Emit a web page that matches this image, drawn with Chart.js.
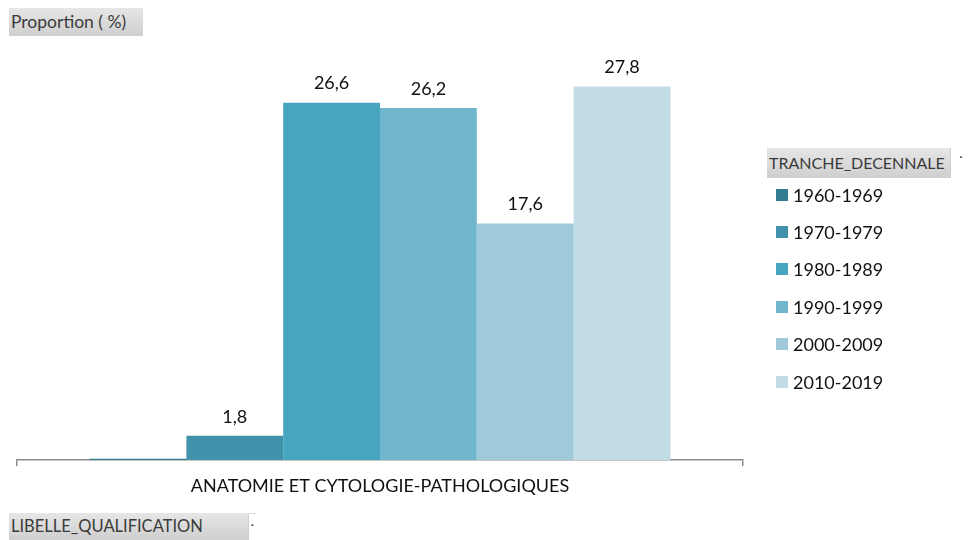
<!DOCTYPE html>
<html>
<head>
<meta charset="utf-8">
<script src="https://cdn.jsdelivr.net/npm/chart.js@4"></script>
<style>
  body { margin: 0; background: #fff; font-family: Lato, "Open Sans", sans-serif; }
  #wrap { position: relative; width: 971px; height: 540px; overflow: hidden; }
  #chart { position: absolute; left: 0; top: 0; }
  .btn {
    position: absolute; box-sizing: border-box; color: #3b3b3b; font-size: 16.5px;
    background: linear-gradient(#e6e6e6, #cfcfcf); padding-left: 2px; white-space: nowrap;
  }
  .drop {
    position: absolute; box-sizing: border-box; background: #fff;
    border-left: 1px solid #cfcfcf; font-size: 12px; font-weight: bold; color: #333; text-align: center;
  }
  #legend { position: absolute; left: 776px; top: 176px; font-size: 18px; color: #111; }
  .item { height: 37.4px; display: flex; align-items: center; }
  .sw { width: 12px; height: 12px; margin-right: 5px; }
</style>
</head>
<body>
<div id="wrap">
  <canvas id="chart" width="971" height="540"></canvas>
  <div class="btn" style="left:9px;top:8px;width:134px;height:28px;line-height:28px;font-size:17.5px;">Proportion ( %)</div>
  <div class="btn" style="left:767px;top:148px;width:204px;height:30px;line-height:30px;font-size:16px;">TRANCHE_DECENNALE</div>
  <div class="drop" style="left:950px;top:148px;width:21px;height:30px;line-height:26px;">&#729;</div>
  <div class="btn" style="left:9px;top:513px;width:239px;height:27px;line-height:27px;">LIBELLE_QUALIFICATION</div>
  <div class="drop" style="left:248px;top:513px;width:8px;height:27px;line-height:30px;border-top:1px solid #ddd;">&#729;</div>
  <div id="legend"></div>
</div>
<script>
const categories = ["ANATOMIE ET CYTOLOGIE-PATHOLOGIQUES"];
const decades = ["1960-1969", "1970-1979", "1980-1989", "1990-1999", "2000-2009", "2010-2019"];
const values = [0.1, 1.8, 26.6, 26.2, 17.6, 27.8];
const colors = ["#337d90", "#3f92a9", "#47a6bf", "#70b6cc", "#a0cad9", "#c1dce5"];

const legend = document.getElementById("legend");
decades.forEach((d, i) => {
  const row = document.createElement("div");
  row.className = "item";
  row.innerHTML = `<span class="sw" style="background:${colors[i]}"></span>${d}`;
  legend.appendChild(row);
});

const valueLabels = {
  id: "valueLabels",
  afterDatasetsDraw(chart) {
    const ctx = chart.ctx;
    ctx.save();
    ctx.font = "18px Lato, 'Open Sans', sans-serif";
    ctx.fillStyle = "#111";
    ctx.textAlign = "center";
    ctx.textBaseline = "bottom";
    chart.data.datasets.forEach((ds, i) => {
      const v = ds.data[0];
      if (v < 1) return; // Excel left this one unlabelled
      const bar = chart.getDatasetMeta(i).data[0];
      ctx.fillText(v.toFixed(1).replace(".", ","), bar.x, bar.y - 10);
    });
    ctx.restore();
  },
};

new Chart(document.getElementById("chart"), {
  type: "bar",
  data: {
    labels: categories,
    datasets: decades.map((d, i) => ({
      label: d,
      data: [values[i]],
      backgroundColor: colors[i],
      barPercentage: 1,
      categoryPercentage: 0.8,
    })),
  },
  options: {
    responsive: false,
    animation: false,
    layout: { padding: { left: 17, right: 228, top: 57, bottom: 0 } },
    plugins: { legend: { display: false }, tooltip: { enabled: false } },
    scales: {
      y: { display: false, min: 0, max: 30 },
      x: {
        afterFit: (s) => { s.height = 80; },
        border: { display: true, color: "#8c8c8c", width: 1.5 },
        grid: { drawOnChartArea: false, drawTicks: true, tickLength: 6, color: "#8c8c8c", lineWidth: 1.5 },
        ticks: { color: "#111", font: { family: "Lato, 'Open Sans', sans-serif", size: 18 }, padding: 9 },
      },
    },
  },
  plugins: [valueLabels],
});
</script>
</body>
</html>
